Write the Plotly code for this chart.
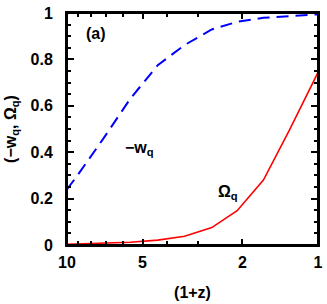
import plotly.graph_objects as go

# 1+z sample points
one_plus_z = [10.0, 9.2, 7.2, 5.6, 4.35, 3.4, 2.65, 2.1, 1.65, 1.3, 1.0]
minus_wq = [0.240, 0.292, 0.455, 0.630, 0.775, 0.862, 0.929, 0.962, 0.979, 0.987, 0.994]
omega_q = [0.003, 0.004, 0.007, 0.012, 0.021, 0.038, 0.075, 0.148, 0.280, 0.495, 0.744]

x_tickvals = [10, 5, 2, 1]
x_ticktext = ["10", "5", "2", "1"]
x_minor = [9, 8, 7, 6, 4, 3]
y_tickvals = [0, 0.2, 0.4, 0.6, 0.8, 1]
y_ticktext = ["0", "0.2", "0.4", "0.6", "0.8", "1"]

FONT = "Liberation Sans"

fig = go.Figure()
fig.add_trace(go.Scatter(x=one_plus_z, y=minus_wq, mode="lines",
                         line=dict(color="#0000ff", width=2, dash="12px,7px")))
fig.add_trace(go.Scatter(x=one_plus_z, y=omega_q, mode="lines", xaxis="x2", yaxis="y2",
                         line=dict(color="#ff0000", width=1.6)))

tick_common = dict(ticks="inside", tickwidth=1.5, tickcolor="black",
                   showline=True, linecolor="black", linewidth=2,
                   showgrid=False, zeroline=False)

fig.update_layout(
    width=327, height=304,
    margin=dict(l=66.5, r=4.5, t=7.5, b=57.5),
    paper_bgcolor="white", plot_bgcolor="white",
    showlegend=False,
    font=dict(family=FONT, size=16, color="black", weight="bold"),
    xaxis=dict(
        type="log", range=[1, 0],
        tickvals=x_tickvals, ticktext=x_ticktext, ticklen=6,
        minor=dict(tickvals=x_minor, ticks="inside", ticklen=4, tickwidth=1.5, tickcolor="black"),
        ticklabelstandoff=2, ticklabeloverflow="allow",
        title=dict(text="(1+z)", standoff=17, font=dict(size=16, weight="bold")),
        **tick_common,
    ),
    yaxis=dict(
        range=[0, 1],
        tickvals=y_tickvals, ticktext=y_ticktext, ticklen=7,
        minor=dict(dtick=0.05, ticks="inside", ticklen=4, tickwidth=1.5, tickcolor="black"),
        ticklabelstandoff=9, ticklabeloverflow="allow",
        title=dict(text="(−w<sub>q</sub>, Ω<sub>q</sub>)", standoff=10, font=dict(size=16, weight="bold")),
        **tick_common,
    ),
    xaxis2=dict(
        type="log", range=[1, 0], overlaying="x", side="top", anchor="y2",
        tickvals=x_tickvals, ticklen=6, showticklabels=False,
        minor=dict(tickvals=x_minor, ticks="inside", ticklen=4, tickwidth=1.5, tickcolor="black"),
        **tick_common,
    ),
    yaxis2=dict(
        range=[0, 1], overlaying="y", side="right", anchor="x2",
        tickvals=y_tickvals, ticklen=7, showticklabels=False,
        minor=dict(dtick=0.05, ticks="inside", ticklen=4, tickwidth=1.5, tickcolor="black"),
        **tick_common,
    ),
    shapes=[dict(type="rect", xref="paper", yref="paper", x0=0, x1=1, y0=0, y1=1,
                 line=dict(color="black", width=2), fillcolor="rgba(0,0,0,0)")],
    annotations=[
        dict(text="(a)", x=0.115, y=0.912, xref="paper", yref="paper",
             xanchor="center", yanchor="middle",
             showarrow=False, font=dict(size=16, weight="bold")),
        dict(text="−w<sub>q</sub>", x=0.29, y=0.415, xref="paper", yref="paper",
             xanchor="center", yanchor="middle",
             showarrow=False, font=dict(size=16, weight="bold")),
        dict(text="Ω<sub>q</sub>", x=0.64, y=0.225, xref="paper", yref="paper",
             xanchor="center", yanchor="middle",
             showarrow=False, font=dict(size=16, weight="bold")),
    ],
)

fig.write_html("out.html", config={"displayModeBar": False},
               post_script="document.body.style.margin='0';document.body.style.padding='0';")
